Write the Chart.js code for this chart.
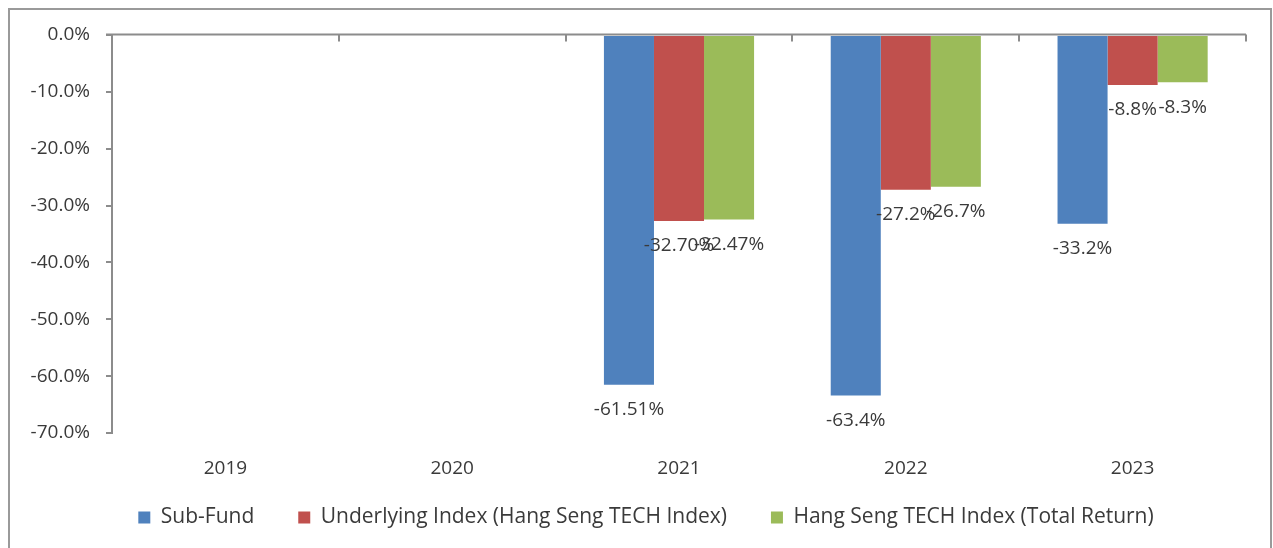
<!DOCTYPE html>
<html>
<head>
<meta charset="utf-8">
<script src="https://cdn.jsdelivr.net/npm/chart.js@4.4.1/dist/chart.umd.min.js"></script>
<style>
  html, body { margin: 0; padding: 0; background: #fff; }
  #wrap { width: 1273px; height: 548px; position: relative; }
</style>
</head>
<body>
<div id="wrap"><canvas id="grafico"></canvas></div>
<script>
const anos = ["2019", "2020", "2021", "2022", "2023"];
const subFund = [null, null, -61.51, -63.4, -33.2];
const underlying = [null, null, -32.70, -27.2, -8.8];
const totalReturn = [null, null, -32.47, -26.7, -8.3];
const rotulos = [
    [null, null, "-61.51%", "-63.4%", "-33.2%"],
    [null, null, "-32.70%", "-27.2%", "-8.8%"],
    [null, null, "-32.47%", "-26.7%", "-8.3%"]
];
const yTicks = [0, -10, -20, -30, -40, -50, -60, -70];

const corEixo = "#8c8c8c";
const corTexto = "#3a3a3a";
const fonte = "Open Sans";
const tam = 19;

// moldura + linha do zero com marcas das categorias
const eixoPlugin = {
    id: "eixo",
    afterDatasetsDraw(chart) {
        const { ctx, chartArea, scales } = chart;
        const y0 = Math.round(scales.y.getPixelForValue(0)) - 0.5;
        const n = anos.length;
        const w = (chartArea.right - chartArea.left) / n;
        ctx.save();
        ctx.strokeStyle = corEixo;
        ctx.lineWidth = 2;
        ctx.beginPath();
        ctx.moveTo(chartArea.left - 6, y0);
        ctx.lineTo(chartArea.right, y0);
        for (let i = 1; i <= n; i++) {
            const x = Math.round(chartArea.left + i * w);
            ctx.moveTo(x, y0);
            ctx.lineTo(x, y0 + 7);
        }
        ctx.stroke();
        // moldura externa
        ctx.strokeStyle = "#9a9a9a";
        ctx.beginPath();
        ctx.moveTo(9, 560);
        ctx.lineTo(9, 9);
        ctx.lineTo(1271, 9);
        ctx.lineTo(1271, 560);
        ctx.stroke();
        ctx.restore();
    }
};

const rotuloPlugin = {
    id: "rotulos",
    afterDatasetsDraw(chart) {
        const ctx = chart.ctx;
        ctx.save();
        ctx.font = `${tam}px "${fonte}"`;
        ctx.fillStyle = corTexto;
        ctx.textAlign = "center";
        ctx.textBaseline = "middle";
        chart.data.datasets.forEach((ds, i) => {
            chart.getDatasetMeta(i).data.forEach((bar, j) => {
                if (ds.data[j] == null) return;
                ctx.fillText(rotulos[i][j], bar.x, bar.y + 25);
            });
        });
        ctx.restore();
    }
};

// legenda com altura fixa e posição ajustada
const legendaPlugin = {
    id: "legendaPos",
    beforeLayout(chart) {
        const lg = chart.legend;
        if (lg && !lg._ajustado) {
            const fitOrig = lg.fit.bind(lg);
            lg.fit = function () { fitOrig(); this.height = 40; };
            lg._ajustado = true;
        }
    },
    afterLayout(chart) {
        const lg = chart.legend;
        if (!lg) return;
        lg.left += 23;
        lg.right += 23;
        lg.top = 463;
        lg.bottom = 548;
    }
};

function desenhar() {
    const ctx = document.getElementById("grafico");
    new Chart(ctx, {
        type: "bar",
        data: {
            labels: anos,
            datasets: [
                { label: "Sub-Fund", data: subFund, backgroundColor: "#4F81BD" },
                { label: "Underlying Index (Hang Seng TECH Index)", data: underlying, backgroundColor: "#C0504D" },
                { label: "Hang Seng TECH Index (Total Return)", data: totalReturn, backgroundColor: "#9BBB59" }
            ]
        },
        options: {
            responsive: true,
            maintainAspectRatio: false,
            animation: false,
            barPercentage: 1,
            categoryPercentage: 0.662,
            layout: { padding: { left: 0, right: 27, top: 35, bottom: 15 } },
            scales: {
                x: {
                    grid: { display: false },
                    border: { display: false },
                    ticks: { color: corTexto, font: { family: fonte, size: tam }, padding: 16 },
                    afterFit(scale) { scale.height = 60; }
                },
                y: {
                    min: -70,
                    max: 0,
                    afterBuildTicks(scale) { scale.ticks = yTicks.map(v => ({ value: v })); },
                    grid: { drawOnChartArea: false, drawTicks: true, tickLength: 6, color: corEixo, lineWidth: 2 },
                    border: { display: true, color: corEixo, width: 2 },
                    ticks: {
                        color: corTexto,
                        font: { family: fonte, size: tam },
                        padding: 16,
                        callback: v => v.toFixed(1) + "%"
                    },
                    afterFit(scale) { scale.width = 112; }
                }
            },
            plugins: {
                legend: {
                    position: "bottom",
                    labels: {
                        color: corTexto,
                        font: { family: fonte, size: 21 },
                        boxWidth: 12,
                        boxHeight: 12,
                        padding: 44
                    }
                },
                tooltip: { enabled: false }
            }
        },
        plugins: [eixoPlugin, rotuloPlugin, legendaPlugin]
    });
}

Promise.all([
    document.fonts.load(`${tam}px "${fonte}"`),
    document.fonts.load(`21px "${fonte}"`)
]).catch(() => {}).then(desenhar);
</script>
</body>
</html>
